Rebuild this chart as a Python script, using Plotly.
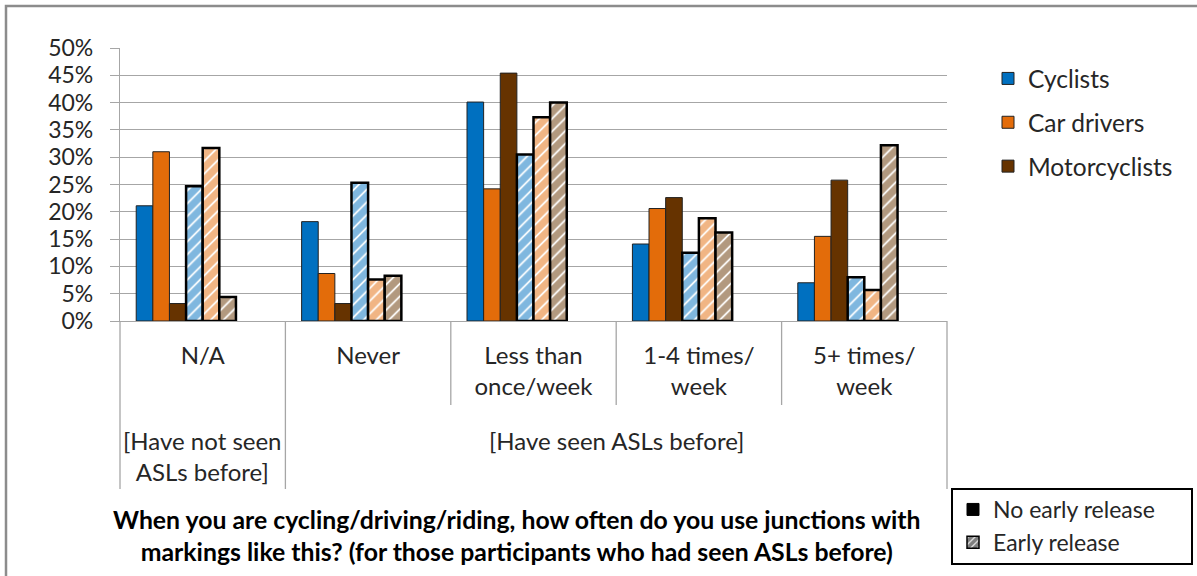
import plotly.graph_objects as go

# Frequency of using junctions with ASL markings, by road-user type
categories = ["N/A", "Never", "Less than<br>once/week", "1-4 times/<br>week", "5+ times/<br>week"]
groups = ["[Have not seen<br>ASLs before]", "[Have seen ASLs before]"]
user_types = ["Cyclists", "Car drivers", "Motorcyclists"]
release_types = ["No early release", "Early release"]

# percentages: no early release
cyclists_no = [21.1, 18.2, 40.1, 14.1, 7.0]
car_drivers_no = [31.0, 8.7, 24.2, 20.6, 15.5]
motorcyclists_no = [3.2, 3.2, 45.4, 22.6, 25.8]
# percentages: early release
cyclists_er = [24.7, 25.3, 30.5, 12.5, 8.0]
car_drivers_er = [31.7, 7.6, 37.3, 18.8, 5.7]
motorcyclists_er = [4.4, 8.3, 40.0, 16.2, 32.2]

y_ticks = list(range(0, 51, 5))
title_text = ("When you are cycling/driving/riding, how often do you use junctions with<br>"
              "markings like this? (for those participants who had seen ASLs before)")

colors = ["#0070C0", "#E36C0A", "#663300"]
FONT = "Lato, 'Open Sans', sans-serif"
TXT = "#262626"
GRID = "#a6a6a6"

W, H = 1197, 576
ML, MR, MT, MB = 120, 250, 48, 255
PW, PH = W - ML - MR, H - MT - MB


def px_x(px):
    return (px - ML) / PW


def px_y(py):
    return (H - MB - py) / PH


fig = go.Figure()

solid = [cyclists_no, car_drivers_no, motorcyclists_no]
hatched = [cyclists_er, car_drivers_er, motorcyclists_er]

for name, vals, col in zip(user_types, solid, colors):
    fig.add_trace(go.Bar(
        x=categories, y=vals, name=name, legend="legend", legendgroup=name,
        marker=dict(color=col, line=dict(color="#222222", width=1)),
    ))

for name, vals, col in zip(user_types, hatched, colors):
    fig.add_trace(go.Bar(
        x=categories, y=vals, name=name + " (early release)", showlegend=False,
        marker=dict(color="white", line=dict(color="black", width=2.5),
                    pattern=dict(shape="/", fgcolor=col, bgcolor="white",
                                 size=9, solidity=0.8)),
    ))

# key for the hatching
fig.add_trace(go.Bar(
    x=[categories[0]], y=[None], name=release_types[0], legend="legend2",
    legendgroup="r0", marker=dict(color="black", line=dict(color="black", width=1)),
))
fig.add_trace(go.Bar(
    x=[categories[0]], y=[None], name=release_types[1], legend="legend2",
    legendgroup="r1",
    marker=dict(color="white", line=dict(color="black", width=1.5),
                pattern=dict(shape="/", fgcolor="black", bgcolor="white",
                             size=6, solidity=0.8)),
))

shapes = []
# outer chart frame
shapes.append(dict(type="rect", xref="paper", yref="paper",
                   x0=px_x(6), x1=px_x(1210), y0=px_y(590), y1=px_y(6),
                   line=dict(color="#8c8c8c", width=2.5), layer="below"))
# box round the release key
shapes.append(dict(type="rect", xref="paper", yref="paper",
                   x0=px_x(952), x1=px_x(1192), y0=px_y(564), y1=px_y(489),
                   line=dict(color="black", width=2), fillcolor="white",
                   layer="below"))
# category dividers below the axis
n = len(categories)
for k in range(n + 1):
    bottom = 489 if k in (0, 1, n) else 405
    shapes.append(dict(type="line", xref="x domain", yref="paper",
                       x0=k / n, x1=k / n, y0=0, y1=px_y(bottom),
                       line=dict(color=GRID, width=1.3)))

annotations = [
    dict(text=groups[0], x=0, xref="x", y=px_y(456), yref="paper",
         xanchor="center", yanchor="middle", showarrow=False,
         font=dict(family=FONT, size=24, color=TXT)),
    dict(text=groups[1], x=2.5, xref="x", y=px_y(440), yref="paper",
         xanchor="center", yanchor="middle", showarrow=False,
         font=dict(family=FONT, size=24, color=TXT)),
    dict(text="<b>" + title_text + "</b>", x=px_x(517), xref="paper",
         y=px_y(535), yref="paper", xanchor="center", yanchor="middle",
         showarrow=False, font=dict(family=FONT, size=24.8, color="black")),
]

fig.update_layout(
    width=W, height=H,
    margin=dict(l=ML, r=MR, t=MT, b=MB, autoexpand=False),
    paper_bgcolor="white", plot_bgcolor="white",
    barmode="group", bargap=0.196, bargroupgap=0,
    font=dict(family=FONT, size=24, color=TXT),
    shapes=shapes, annotations=annotations,
    legend=dict(x=px_x(988), y=px_y(56), xanchor="left", yanchor="top",
                font=dict(family=FONT, size=24.5, color=TXT),
                tracegroupgap=9, itemwidth=30, bgcolor="rgba(0,0,0,0)"),
    legend2=dict(x=px_x(953), y=px_y(488), xanchor="left", yanchor="top",
                 font=dict(family=FONT, size=23, color=TXT),
                 tracegroupgap=0, borderwidth=0, bgcolor="rgba(0,0,0,0)"),
    xaxis=dict(type="category", showline=True, linecolor=GRID, linewidth=1.3,
               ticks="", showgrid=False, ticklabelstandoff=13, automargin=False,
               tickfont=dict(family=FONT, size=24, color=TXT)),
    yaxis=dict(range=[0, 50], tickvals=y_ticks, ticktext=[f"{v}%" for v in y_ticks],
               showgrid=True, gridcolor=GRID, gridwidth=1.3,
               showline=True, linecolor=GRID, linewidth=1.3,
               ticks="outside", ticklen=9, tickcolor=GRID, tickwidth=1.3,
               ticklabelstandoff=12, zeroline=False, automargin=False,
               tickfont=dict(family=FONT, size=23, color=TXT)),
)

fig.write_html("out.html")
